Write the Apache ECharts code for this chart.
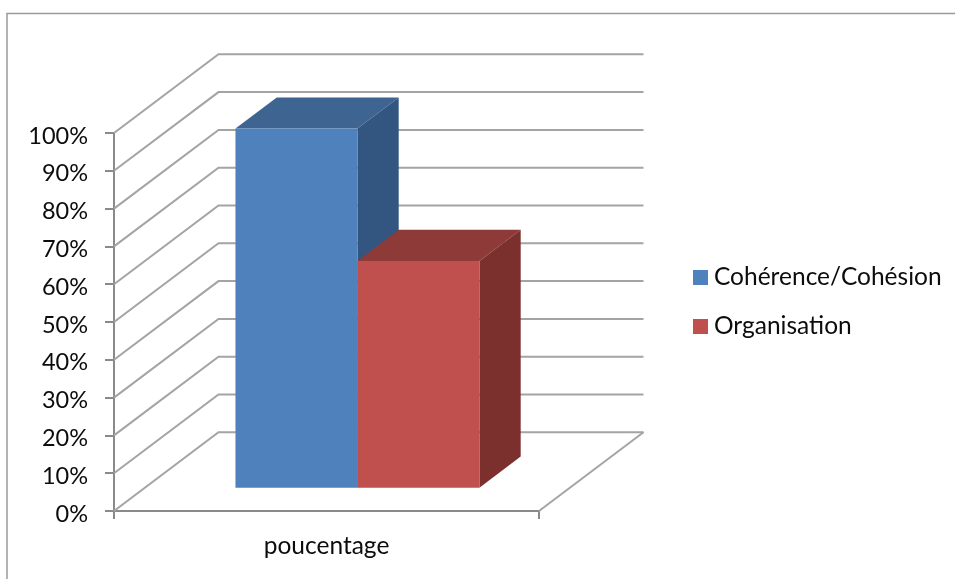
<!DOCTYPE html>
<html>
<head>
<meta charset="utf-8">
<style>
  html, body { margin: 0; padding: 0; background: #fff; }
  #chart { width: 955px; height: 579px; }
</style>
<script src="https://cdn.jsdelivr.net/npm/echarts@6/dist/echarts.min.js"></script>
</head>
<body>
<div id="chart"></div>
<script>
// Chart contents
const categories = ['poucentage'];
const seriesNames = ['Cohérence/Cohésion', 'Organisation'];
const coherenceValues = [95];
const organisationValues = [60];
const gridTicks = [0, 10, 20, 30, 40, 50, 60, 70, 80, 90, 100];

// Oblique projection of the box: full floor depth in screen pixels
const DEPTH_X = 104.5;
const DEPTH_Y = -78.7;
const BAR_DEPTH_START = 0.296;  // where the bars stand on the floor
const BAR_DEPTH_SIZE = 0.395;   // how deep the bars are
const BAR_BAND_SHARE = 0.287;   // bar width as a share of the category band

const FONT = 'Lato, "Open Sans", sans-serif';
const FONT_SIZE = 24.5;
const TICK_FONT_SIZE = 23.5;
const TEXT_COLOR = '#0c0c0c';
const AXIS_COLOR = '#8a8a8a';
const WALL_COLOR = '#a4a4a4';

const faces = [
  { front: '#4f81bd', top: '#3e6591', side: '#325680' },
  { front: '#c0504d', top: '#8e3a38', side: '#7b302e' }
];

// Back-wall gridlines with their diagonal run across the side wall
function renderWallLine(params, api) {
  const cs = params.coordSys;
  const p = api.coord([0, api.value(1)]);
  const left = cs.x;
  const right = cs.x + cs.width;
  const style = { stroke: WALL_COLOR, lineWidth: 2, fill: null };
  const children = [{
    type: 'polyline',
    shape: { points: [
      [left, p[1]],
      [left + DEPTH_X, p[1] + DEPTH_Y],
      [right + DEPTH_X, p[1] + DEPTH_Y]
    ] },
    style
  }];
  if (api.value(1) === 0) {
    children.push({
      type: 'line',
      shape: { x1: right, y1: p[1], x2: right + DEPTH_X, y2: p[1] + DEPTH_Y },
      style
    });
  }
  return { type: 'group', children };
}

// One extruded bar: front, top and right-hand faces
function boxRenderer(index) {
  return function (params, api) {
    const centre = api.coord([api.value(0), 0]);
    const topPt = api.coord([api.value(0), api.value(1)]);
    const w = api.size([1, 0])[0] * BAR_BAND_SHARE;
    const ox = DEPTH_X * BAR_DEPTH_START;
    const oy = DEPTH_Y * BAR_DEPTH_START;
    const dx = DEPTH_X * BAR_DEPTH_SIZE;
    const dy = DEPTH_Y * BAR_DEPTH_SIZE;
    const x0 = centre[0] - w + index * w + ox;
    const x1 = x0 + w;
    const yb = centre[1] + oy;
    const yt = topPt[1] + oy;
    const c = faces[index];
    return {
      type: 'group',
      children: [
        { type: 'polygon', shape: { points: [[x0, yt], [x1, yt], [x1 + dx, yt + dy], [x0 + dx, yt + dy]] }, style: { fill: c.top } },
        { type: 'polygon', shape: { points: [[x1, yt], [x1 + dx, yt + dy], [x1 + dx, yb + dy], [x1, yb]] }, style: { fill: c.side } },
        { type: 'rect', shape: { x: x0, y: yt, width: w, height: yb - yt }, style: { fill: c.front } }
      ]
    };
  };
}

const chart = echarts.init(document.getElementById('chart'), null, { renderer: 'canvas' });
chart.setOption({
  animation: false,
  backgroundColor: '#ffffff',
  grid: { left: 114, top: 133, width: 425, height: 378, containLabel: false },
  graphic: [{
    type: 'polyline',
    silent: true,
    shape: { points: [[7, 579], [7, 13.5], [955, 13.5]] },
    style: { stroke: '#9a9a9a', lineWidth: 1.5, fill: null }
  }],
  legend: {
    left: 688,
    top: 260,
    orient: 'vertical',
    itemWidth: 15,
    itemHeight: 15,
    itemGap: 24,
    icon: 'rect',
    data: seriesNames,
    textStyle: { fontFamily: FONT, fontSize: FONT_SIZE, color: TEXT_COLOR, padding: [0, 0, 0, 1] }
  },
  xAxis: {
    type: 'category',
    data: categories,
    axisLine: { lineStyle: { color: AXIS_COLOR, width: 2 } },
    axisTick: { show: true, alignWithLabel: false, length: 8, lineStyle: { color: AXIS_COLOR, width: 2 } },
    axisLabel: { fontFamily: FONT, fontSize: FONT_SIZE, color: TEXT_COLOR, margin: 23 },
    splitLine: { show: false }
  },
  yAxis: {
    type: 'value',
    min: 0,
    max: 100,
    interval: 10,
    axisLine: { show: true, lineStyle: { color: AXIS_COLOR, width: 2 } },
    axisTick: { show: true, length: 9, lineStyle: { color: AXIS_COLOR, width: 2 } },
    axisLabel: { fontFamily: FONT, fontSize: TICK_FONT_SIZE, color: TEXT_COLOR, margin: 26, verticalAlign: 'top', lineHeight: 6, formatter: '{value}%' },
    splitLine: { show: false }
  },
  series: [
    {
      type: 'custom',
      silent: true,
      clip: false,
      z: 1,
      renderItem: renderWallLine,
      encode: { x: 0, y: 1 },
      data: gridTicks.map(v => [0, v])
    },
    {
      name: seriesNames[0],
      type: 'custom',
      clip: false,
      z: 2,
      renderItem: boxRenderer(0),
      itemStyle: { color: faces[0].front },
      encode: { x: 0, y: 1 },
      data: coherenceValues.map((v, i) => [i, v])
    },
    {
      name: seriesNames[1],
      type: 'custom',
      clip: false,
      z: 3,
      renderItem: boxRenderer(1),
      itemStyle: { color: faces[1].front },
      encode: { x: 0, y: 1 },
      data: organisationValues.map((v, i) => [i, v])
    }
  ]
});
</script>
</body>
</html>
